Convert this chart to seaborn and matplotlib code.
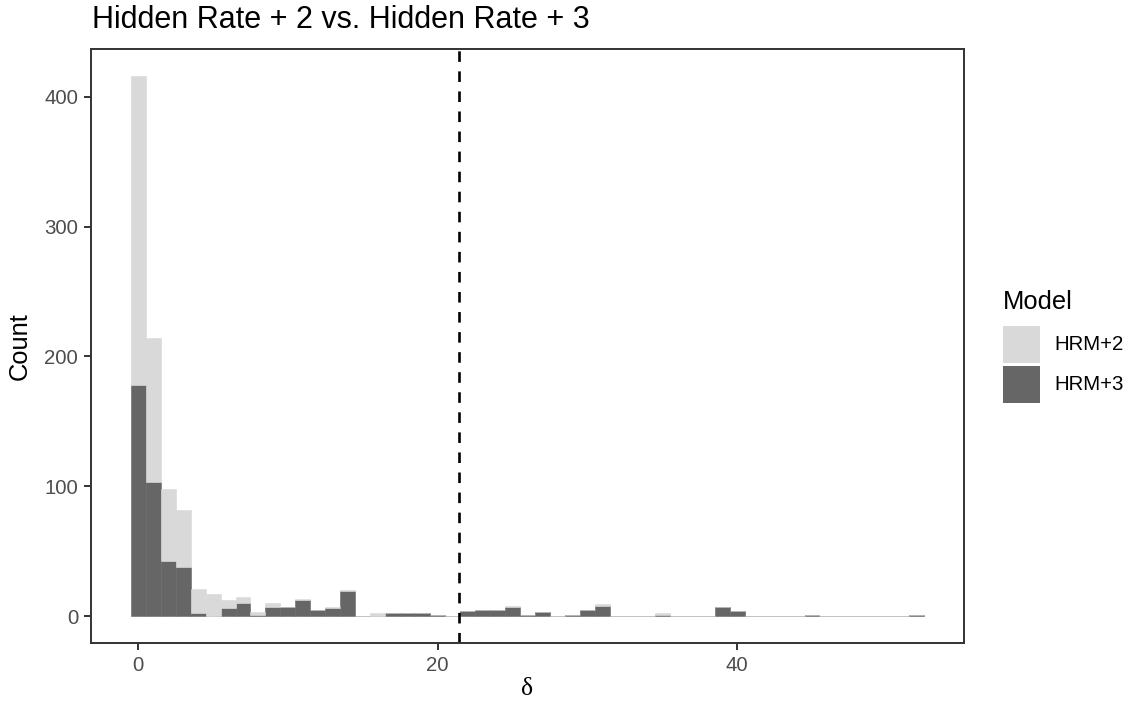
import numpy as np
import pandas as pd
import matplotlib
matplotlib.use('Agg')
import matplotlib.pyplot as plt
import seaborn as sns

# ---------------- data (counts per unit-width bin, centred on 0..52) ----------------
bin_centers = np.arange(0, 53)
hrm2_counts = [238, 111, 56, 44, 19, 17, 6, 5, 2, 3,
               0, 1, 0, 1, 1, 0, 2, 0, 0, 0,
               0, 0, 0, 0, 0, 1, 0, 0, 0, 0,
               0, 1, 0, 0, 0, 1, 0, 0, 0, 0,
               0, 0, 0, 0, 0, 0, 0, 0, 0, 0,
               0, 0, 0]
hrm3_counts = [178, 103, 42, 38, 2, 0, 6, 10, 1, 7,
               7, 12, 5, 6, 19, 0, 0, 2, 2, 2,
               1, 0, 4, 5, 5, 7, 1, 3, 0, 1,
               5, 8, 0, 0, 0, 1, 0, 0, 0, 7,
               4, 0, 0, 0, 0, 1, 0, 0, 0, 0,
               0, 0, 1]
models = ['HRM+2', 'HRM+3']
model_colors = {'HRM+2': '#D9D9D9', 'HRM+3': '#666666'}
threshold = 21.43

df = pd.DataFrame({
    'delta': np.concatenate([bin_centers, bin_centers]),
    'count': np.concatenate([hrm2_counts, hrm3_counts]),
    'Model': np.repeat(models, len(bin_centers)),
})

# ---------------- style ----------------
W, H = 1141, 709
plt.rcParams['font.family'] = ['Liberation Sans', 'DejaVu Sans']

fig = plt.figure(figsize=(W / 100, H / 100), dpi=100)
ax = fig.add_axes([91 / W, 1 - 643 / H, (964 - 91) / W, (643 - 49) / H])

# stacked histogram, HRM+2 on top of HRM+3
sns.histplot(data=df, x='delta', weights='count', hue='Model', hue_order=models,
             palette=model_colors, multiple='stack', binwidth=1, binrange=(-0.5, 52.5),
             alpha=1, linewidth=0, ax=ax)

# thin outline so empty bins show as a faint baseline (like the original)
for p in ax.patches:
    p.set_edgecolor(p.get_facecolor())
    p.set_linewidth(0.4)

ax.axvline(threshold, color='black', linewidth=1.9, linestyle=(0, (4, 3.6)))

totals = np.array(hrm2_counts) + np.array(hrm3_counts)
ymax = totals.max()
ax.set_xlim(-0.5 - 0.05 * 53, 52.5 + 0.05 * 53)
ax.set_ylim(-0.05 * ymax, ymax * 1.05)
ax.set_xticks([0, 20, 40])
ax.set_yticks([0, 100, 200, 300, 400])
ax.grid(False)
for s in ax.spines.values():
    s.set_color('#333333')
    s.set_linewidth(1.4)
ax.tick_params(axis='both', length=4.7, width=1.4, color='#333333',
               labelcolor='#4D4D4D', labelsize=14.7, pad=4.5)
ax.set_xlabel('')
ax.set_ylabel('')

# titles
fig.text(92 / W, 1 - 28.5 / H, 'Hidden Rate + 2 vs. Hidden Rate + 3',
         fontsize=22, ha='left', va='baseline', color='black')
fig.text(20 / W, 1 - 346 / H, 'Count', fontsize=18.4, rotation=90,
         ha='center', va='center')
fig.text(527.5 / W, 1 - 695 / H, 'δ', fontsize=18.4, ha='center', va='baseline',
         family=['Liberation Serif', 'DejaVu Serif'])

# legend
sns.move_legend(ax, loc='upper left', bbox_to_anchor=(1003 / W, 1 - 290.5 / H),
                bbox_transform=fig.transFigure, frameon=False, title='Model',
                fontsize=14.7, title_fontsize=18.4, handlelength=1.81,
                handleheight=2.41, handletextpad=0.69, labelspacing=0.147,
                borderpad=0, borderaxespad=0, alignment='left')
leg = ax.get_legend()
leg._legend_box.sep = 8

fig.savefig('out.png', dpi=100)
